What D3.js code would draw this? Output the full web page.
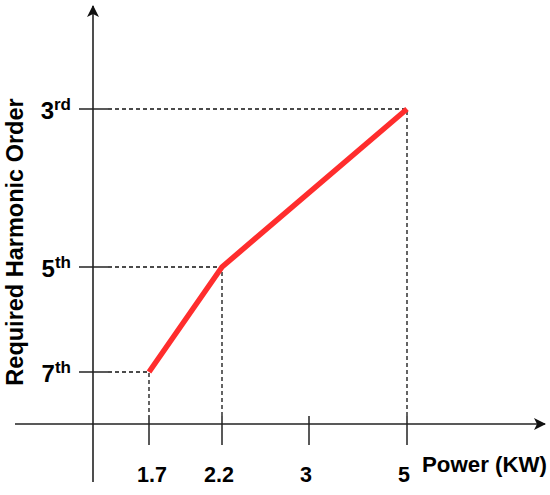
<!DOCTYPE html>
<html><head><meta charset="utf-8">
<script src="https://cdn.jsdelivr.net/npm/d3@7"></script>
<style>body{margin:0;background:#fff}svg{display:block}text{font-family:"Liberation Sans",Arial,Helvetica,sans-serif;font-weight:bold;fill:#000}</style>
</head><body><svg id="c" width="550" height="495"></svg>
<script>
const powerTicks = [1.7, 2.2, 3, 5];
const powerLabels = ["1.7", "2.2", "3", "5"];
const orderTicks = [7, 5, 3];
const orderNums = ["7", "5", "3"];
const orderSup = ["th", "th", "rd"];
const linePower = [1.7, 2.2, 5];
const lineOrder = [7, 5, 3];

const svg = d3.select("#c");
const axisX0 = 93, axisY0 = 424;
const x = d3.scaleLinear().domain(powerTicks).range([149, 222, 309, 407]);
const y = d3.scaleLinear().domain(orderTicks).range([372, 267, 109]);

svg.append("defs").append("marker").attr("id","arr").attr("viewBox","0 0 12 12")
  .attr("refX",11).attr("refY",6).attr("markerWidth",12).attr("markerHeight",12)
  .attr("markerUnits","userSpaceOnUse").attr("orient","auto")
  .append("path").attr("d","M0,0 L12,6 L0,12 L3,6 Z").attr("fill","#111");

// axes
svg.append("line").attr("x1",axisX0).attr("y1",482).attr("x2",axisX0).attr("y2",6)
  .attr("stroke","#222").attr("stroke-width",1.6).attr("marker-end","url(#arr)");
svg.append("line").attr("x1",15).attr("y1",axisY0).attr("x2",545).attr("y2",axisY0)
  .attr("stroke","#222").attr("stroke-width",1.6).attr("marker-end","url(#arr)");

// x ticks
svg.selectAll(".xt").data(powerTicks).enter().append("line")
  .attr("x1",d=>x(d)).attr("x2",d=>x(d)).attr("y1",416).attr("y2",445)
  .attr("stroke","#222").attr("stroke-width",1.5);
svg.selectAll(".xl").data(powerTicks).enter().append("text")
  .attr("x",d=>x(d)).attr("dx",(d,i)=>i===0?3:-3).attr("y",482).attr("text-anchor","middle").attr("font-size",21.5)
  .text((d,i)=>powerLabels[i]);
svg.append("text").attr("x",422).attr("y",472).attr("font-size",21.5)
  .attr("textLength",125).attr("lengthAdjust","spacingAndGlyphs").text("Power (KW)");

// y ticks
svg.selectAll(".yt").data(orderTicks).enter().append("line")
  .attr("x1",79).attr("x2",108).attr("y1",d=>y(d)).attr("y2",d=>y(d))
  .attr("stroke","#222").attr("stroke-width",1.5);
const yl = svg.selectAll(".yl").data(orderTicks).enter().append("text")
  .attr("x",71).attr("y",d=>y(d)+10).attr("text-anchor","end").attr("font-size",24);
yl.append("tspan").text((d,i)=>orderNums[i]);
yl.append("tspan").attr("font-size",17).attr("dy",-9).text((d,i)=>orderSup[i]);

svg.append("text").attr("transform","translate(23,242) rotate(-90)").attr("text-anchor","middle")
  .attr("font-size",23.5).text("Required Harmonic Order");

// dashed guides
linePower.forEach((p,i)=>{
  const px = x(p), py = y(lineOrder[i]);
  svg.append("path").attr("d",`M108,${py}H${px}V416`).attr("fill","none")
    .attr("stroke","#111").attr("stroke-width",1.3).attr("stroke-dasharray","4,3");
});

// red line
svg.append("path").datum(linePower.map((p,i)=>[p,lineOrder[i]]))
  .attr("d", d3.line().x(d=>x(d[0])).y(d=>y(d[1])))
  .attr("fill","none").attr("stroke","#ff2d2d").attr("stroke-width",5.5)
  .attr("stroke-linejoin","round");
</script></body></html>
